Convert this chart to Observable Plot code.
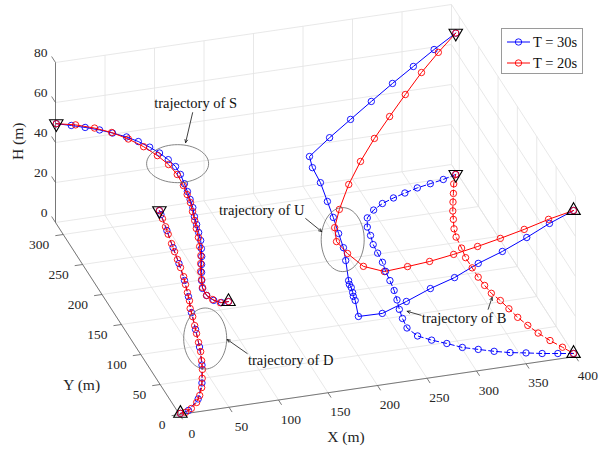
<!DOCTYPE html>
<html><head><meta charset="utf-8">
<script src="https://cdn.jsdelivr.net/npm/d3@7"></script>
<script src="https://cdn.jsdelivr.net/npm/@observablehq/plot@0.6"></script>
<style>
body{margin:0;background:#fff;}
#wrap{position:relative;width:603px;height:451px;font-family:"Liberation Serif","Times New Roman",serif;}
#legend{position:absolute;left:501px;top:28px;}
</style></head><body><div id="wrap"></div>
<script>
// ---------- axis ticks ----------
const xTicks = [0, 50, 100, 150, 200, 250, 300, 350, 400];
const yTicks = [0, 50, 100, 150, 200, 250, 300];
const hTicks = [0, 20, 40, 60, 80];
const xLim = [0, 400], yLim = [0, 320], hLim = [0, 80];
const periods = ["T = 30s", "T = 20s"];
const colors = ["#0000ff", "#ff0000"];

// ---------- trajectories [X (m), Y (m), H (m)] ----------
const S_T30 = [[0,318,50],[14,315,49],[28,315,47],[41,311,46],[53.5,309.5,44],[66.5,306.5,42],[77,303,40],[86.5,298,38],[94.5,293,36],[101,287,34],[106,281,32],[107,271,31],[107.5,262,29],[108,255.5,27],[107,246,26],[107,239,24],[105.5,231,22],[104,221.5,21],[103.5,215,19],[103,208.5,17],[100,199,16],[98,193,14],[95.5,187,12],[92,178,11],[89.5,171.5,9],[88,165.5,7],[90,160,5],[96,157,3],[103,155,2],[112.5,161,0]];
const S_T20 = [[0,318,50],[19.5,318,48],[37.5,315,46],[53,310.5,44],[67.5,304.5,41.5],[80,297,39],[91,289.5,36],[99.5,282.5,33],[104,271.5,31],[105.5,259.5,29],[106,251,27],[106,242.5,25.5],[105.5,236,23],[104,226.5,21.5],[102.5,218.5,20],[101.5,210.5,18],[99,201,16.5],[96.5,191.5,15],[94,185.5,13],[91.5,179.5,11],[89.5,171.5,9.5],[88,165.5,7.5],[90,160,5],[95.5,158.5,3],[102,155,2],[112.5,161,0]];
const D_T30 = [[103,315,0],[102,308.5,0],[98,283,0],[93.5,255.5,0],[89.5,230,0],[84.5,203,0],[78.5,177.5,0],[71.8,152.5,0],[65.5,126,0],[58.7,98.3,0],[50.2,70.2,0],[39.5,43,0],[26.5,19.5,0],[10.7,4.2,0],[1.5,1.5,0]];
const D_T20 = [[103,315,0],[101,302,0],[99,289,0],[97,277,0],[94.5,262,0],[92.5,249,0],[90.5,236.5,0],[88.5,223.5,0],[86,209,0],[83,196.5,0],[80,184,0],[77,171,0],[73,159,0],[70.5,146,0],[67,132,0],[64,119.5,0],[60.5,105.5,0],[57,91,0],[52.5,77,0],[48,63.5,0],[42.5,50,0],[36.5,36,0],[30,24.5,0],[23,14.5,0],[14.5,6.5,0],[7,2,0],[1.5,1.5,0]];
const U_T30 = [[400,309,69],[375,301,65],[350.5,292,61],[326.5,284.5,56.5],[301,274,52.5],[276.5,265,48],[251,254,44],[226,242,40],[224.5,230.5,38],[226.5,215,35],[226.5,197,31],[226,180.5,28],[225.5,165.5,24.5],[224.5,150.5,22],[222.5,139.5,19],[218,120.5,15],[217,116,14.5],[217.5,112.5,14],[217,107.5,13],[216.5,104.5,12],[217,101,11],[214,85,8],[229.5,63,15],[250.5,54.5,22],[272,47.5,29],[292.5,37.5,36],[314.5,32.5,43],[335.5,24,50],[358,18.5,57],[379,13.5,64],[400,5,71.5]];
const U_T20 = [[400,309,69],[377.5,296.5,64.75],[355,282.5,60.5],[332,265.5,56.25],[309.5,248.5,52],[287.5,231.5,47.75],[266,212.5,43.5],[246.5,193,39.25],[228,170,35],[217,154,31.5],[214,141.5,28.5],[220,128.5,26],[230,113,23.5],[248,105,22],[265,88.5,28.2],[281,72.5,34.4],[300,59,40.6],[319.5,47,46.75],[338,35.5,52.9],[358,25,59.1],[379,16,65.3],[400,5,71.5]];
const B_T30 = [[398,304,0],[383.5,299,0],[369,295.5,0],[354.5,292,0],[340,287,0],[326.5,282,0],[313,276,0],[301,268,0],[290.5,257.5,0],[285,243.5,0],[283,230,0],[280,215.5,0],[279,201.5,0],[278,186.5,0],[275.5,172,0],[274,157,0],[272,141,0],[269,126,0],[265.5,111,0],[263,96.5,0],[261.5,81,0],[266.5,66.5,0],[277,57,0],[289,48.5,0],[301,39,0],[314.5,32.5,0],[328,26,0],[342,20.5,0],[356.5,16.5,0],[371,12,0],[385.5,8.5,0],[400,5,0]];
const B_T20 = [[398,304,0],[390.5,290,0],[384.5,275.5,0],[379,262.5,0],[373.5,249,0],[369,236,0],[364,221.5,0],[361,208.5,0],[359.5,190.5,0],[357.5,175,0],[357.5,158,0],[357.5,142.5,0],[358.5,128.5,0],[360,115,0],[364,102,0],[367,87.5,0],[370,72.5,0],[374.5,58,0],[379.5,44,0],[386,30,0],[393.5,17,0],[400,5,0]];

const trajectories = [
  {id: "U", runs: [U_T30, U_T20], dash: null},
  {id: "B", runs: [B_T30, B_T20], dash: "5,3"},
  {id: "S", runs: [S_T30, S_T20], dash: null},
  {id: "D", runs: [D_T30, D_T20], dash: "5,3"}
];

// ---------- orthographic 3-D view (plane units) ----------
const view = {xu: 0.99, yu: -0.3875, xv: 0.145, yv: 0.6, hv: 2};
const proj = ([X, Y, H = 0]) => ({u: view.xu * X + view.yu * Y, v: view.xv * X + view.yv * Y + view.hv * H});
const seg = (a, b) => { const p = proj(a), q = proj(b); return {u1: p.u, v1: p.v, u2: q.u, v2: q.v}; };

const grid = [];
for (const x of xTicks) { grid.push(seg([x, yLim[0], 0], [x, yLim[1], 0])); grid.push(seg([x, yLim[1], hLim[0]], [x, yLim[1], hLim[1]])); }
for (const y of yTicks) { grid.push(seg([xLim[0], y, 0], [xLim[1], y, 0])); grid.push(seg([xLim[1], y, hLim[0]], [xLim[1], y, hLim[1]])); }
for (const h of hTicks) { grid.push(seg([xLim[0], yLim[1], h], [xLim[1], yLim[1], h])); grid.push(seg([xLim[1], yLim[0], h], [xLim[1], yLim[1], h])); }
const axes = [seg([0,0,0],[xLim[1],0,0]), seg([0,0,0],[0,yLim[1],0]), seg([0,yLim[1],0],[0,yLim[1],hLim[1]])];
const ticks = [
  ...xTicks.map(x => seg([x,0,0],[x,-8,0])),
  ...yTicks.map(y => seg([0,y,0],[-8,y,0])),
  ...hTicks.map(h => seg([0,yLim[1],h],[0,yLim[1]+10,h]))
];
const xLab = xTicks.map(x => ({...proj([x,-32,0]), t: String(x)}));
const yLab = yTicks.map(y => ({...proj([0,y,0]), t: String(y)}));
const hLab = hTicks.map(h => ({...proj([0,yLim[1],h]), t: String(h)}));

// symbols
const triSym = down => ({draw(ctx, size) {
  const s = Math.sqrt(size / (Math.sqrt(3) / 4)), h = s * Math.sqrt(3) / 2, k = down ? -1 : 1;
  ctx.moveTo(0, -k * 2 * h / 3); ctx.lineTo(s / 2, k * h / 3); ctx.lineTo(-s / 2, k * h / 3); ctx.closePath();
}});
const ellipseSym = (rx, ry) => ({draw(ctx) {
  const k = 0.5523;
  ctx.moveTo(rx, 0);
  ctx.bezierCurveTo(rx, ry * k, rx * k, ry, 0, ry);
  ctx.bezierCurveTo(-rx * k, ry, -rx, ry * k, -rx, 0);
  ctx.bezierCurveTo(-rx, -ry * k, -rx * k, -ry, 0, -ry);
  ctx.bezierCurveTo(rx * k, -ry, rx, -ry * k, rx, 0);
  ctx.closePath();
}});

// annotations: 3-D anchor, ellipse radii (px), label / arrow offsets (px)
const notes = [
  {label: "trajectory of S", at: [112, 291, 30], ell: [31, 19], text: [18, -60], arrows: [[15, -51, 8, -21]]},
  {label: "trajectory of D", at: [69, 110, 0], ell: [21.5, 30.5], text: [85.5, 22], arrows: [[42, 15, 22, 1]]},
  {label: "trajectory of U", at: [231, 169, 20], ell: [21.5, 32], text: [-81, -29], arrows: [[-37, -21, -21, -8]]},
  {label: "trajectory of B", at: [320, 83, 0], ell: null, text: [0, 0], arrows: [[-43, -3, -57, -7], [24, -9, 28, -21]]}
];

const marks = [
  Plot.link(grid, {x1: "u1", y1: "v1", x2: "u2", y2: "v2", stroke: "#e2e2e2", strokeWidth: 0.8}),
  Plot.link(axes, {x1: "u1", y1: "v1", x2: "u2", y2: "v2", stroke: "#5a5a5a", strokeWidth: 0.8}),
  Plot.link(ticks, {x1: "u1", y1: "v1", x2: "u2", y2: "v2", stroke: "#5a5a5a", strokeWidth: 0.8}),
  Plot.text(xLab, {x: "u", y: "v", text: "t", fontSize: 13.5, fill: "#262626", textAnchor: "middle"}),
  Plot.text(yLab, {x: "u", y: "v", text: "t", fontSize: 13.5, fill: "#262626", textAnchor: "end", dx: -14, dy: 10}),
  Plot.text(hLab, {x: "u", y: "v", text: "t", fontSize: 13.5, fill: "#262626", textAnchor: "end", dx: -8, dy: -10}),
  Plot.text([proj([140, -72, 0])], {x: "u", y: "v", text: () => "X (m)", fontSize: 15.5, fill: "#262626"}),
  Plot.text([proj([-73, 66, 0])], {x: "u", y: "v", text: () => "Y (m)", fontSize: 15.5, fill: "#262626"}),
  Plot.text([proj([-33.5, 330, 40])], {x: "u", y: "v", text: () => "H (m)", fontSize: 15.5, fill: "#262626", rotate: -90})
];

for (const tr of trajectories) {
  tr.runs.forEach((run, i) => {
    const pts = run.map(proj);
    marks.push(Plot.line(pts, {x: "u", y: "v", stroke: colors[i], strokeWidth: 1, strokeDasharray: tr.dash}));
    marks.push(Plot.dot(pts, {x: "u", y: "v", r: 3.2, stroke: colors[i], strokeWidth: 0.9, fill: "none"}));
  });
}
const starts = trajectories.map(t => proj(t.runs[0][0]));
const ends = trajectories.map(t => proj(t.runs[0][t.runs[0].length - 1]));
marks.push(Plot.dot(starts, {x: "u", y: "v", r: 5, symbol: triSym(true), stroke: "#000", strokeWidth: 1.1, fill: "none"}));
marks.push(Plot.dot(ends, {x: "u", y: "v", r: 5, symbol: triSym(false), stroke: "#000", strokeWidth: 1.1, fill: "none"}));

for (const n of notes) {
  const c = proj(n.at);
  if (n.ell) marks.push(Plot.dot([c], {x: "u", y: "v", r: 1, symbol: ellipseSym(n.ell[0], n.ell[1]), stroke: "#666", strokeWidth: 0.8, fill: "none"}));
  marks.push(Plot.text([c], {x: "u", y: "v", text: () => n.label, fontSize: 14.5, fill: "#111", dx: n.text[0], dy: n.text[1]}));
  const arr = n.arrows.map(a => ({u1: c.u + a[0], v1: c.v - a[1], u2: c.u + a[2], v2: c.v - a[3]}));
  marks.push(Plot.arrow(arr, {x1: "u1", y1: "v1", x2: "u2", y2: "v2", stroke: "#111", strokeWidth: 0.8, headLength: 6, headAngle: 50}));
}

const chart = Plot.plot({
  width: 603, height: 451, margin: 0,
  x: {type: "linear", domain: [-179, 424], range: [0, 603], axis: null},
  y: {type: "linear", domain: [-37, 414], range: [451, 0], axis: null},
  style: {fontFamily: "'Liberation Serif','Times New Roman',serif", background: "#fff", overflow: "visible"},
  marks
});
const wrap = document.getElementById("wrap");
wrap.appendChild(chart);

// legend
const lg = d3.select(wrap).append("svg").attr("id", "legend").attr("width", 82).attr("height", 46);
lg.append("rect").attr("x", 0.5).attr("y", 0.5).attr("width", 81).attr("height", 45).attr("fill", "#fff").attr("stroke", "#9a9a9a").attr("stroke-width", 1);
periods.forEach((p, i) => {
  const y = 14 + i * 21;
  lg.append("line").attr("x1", 6).attr("x2", 29).attr("y1", y).attr("y2", y).attr("stroke", colors[i]).attr("stroke-width", 1);
  lg.append("circle").attr("cx", 17.5).attr("cy", y).attr("r", 3.2).attr("fill", "none").attr("stroke", colors[i]).attr("stroke-width", 0.9);
  lg.append("text").attr("x", 32).attr("y", y).attr("dy", "0.35em").attr("font-size", 14.5).attr("font-family", "'Liberation Serif','Times New Roman',serif").attr("fill", "#111").text(p);
});
</script>
</body></html>
